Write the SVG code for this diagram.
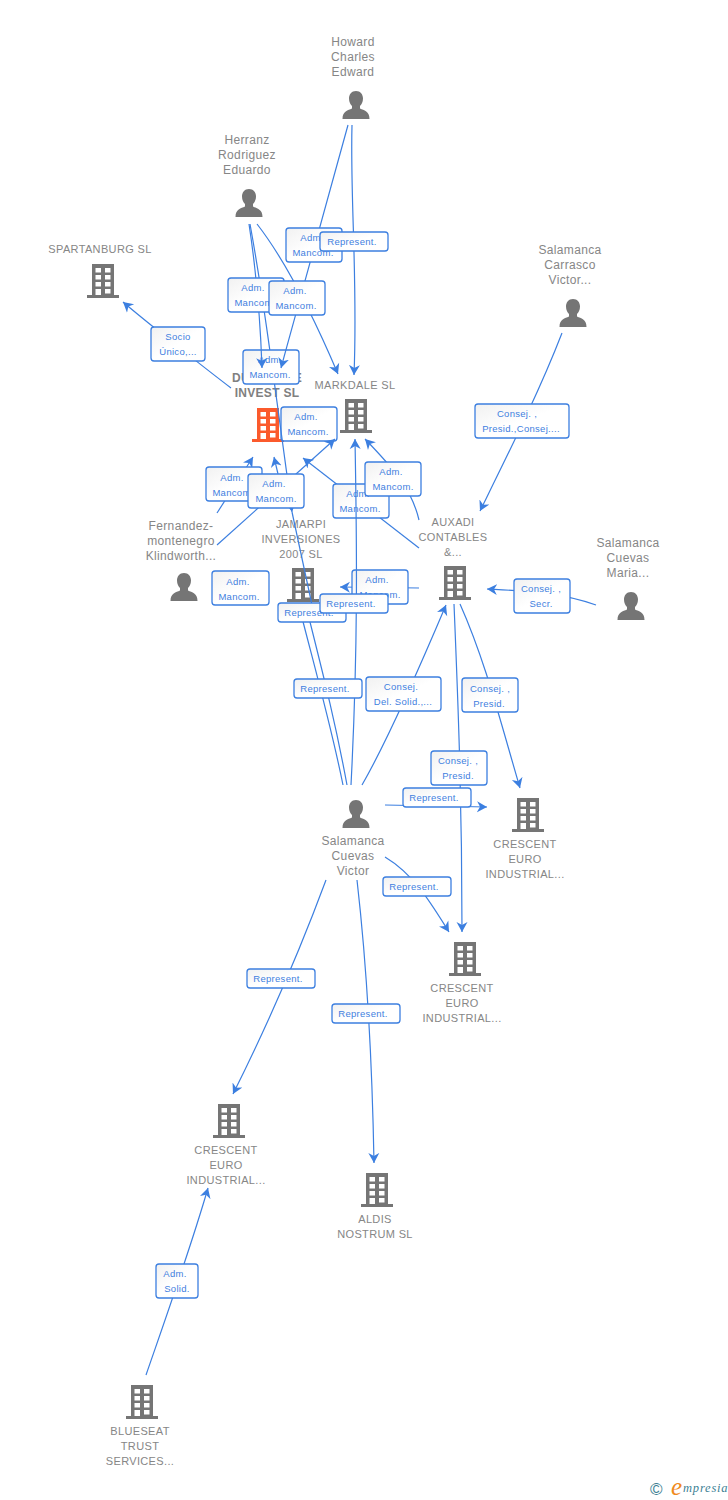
<svg xmlns="http://www.w3.org/2000/svg" width="728" height="1500" viewBox="0 0 728 1500">
<style>
.e{fill:none;stroke:#3c7fe0;stroke-width:1.2}
.a{marker-end:url(#ah)}
.b{fill:url(#bg);stroke:#3c7fe0;stroke-width:1.3}
.t{font:9.5px "Liberation Sans",Arial,sans-serif;fill:#3f80e0;text-anchor:middle;letter-spacing:.3px}
.l{font:12px "Liberation Sans",Arial,sans-serif;fill:#868686;text-anchor:middle;letter-spacing:.35px}
.s{font:11px "Liberation Sans",Arial,sans-serif;fill:#868686;text-anchor:middle;letter-spacing:.35px}
.lb{font:bold 12px "Liberation Sans",Arial,sans-serif;fill:#808080;letter-spacing:.3px}
.g{fill:#757575}
.w{fill:#fff}
</style>
<defs>
<linearGradient id="bg" x1="0" y1="0" x2="1" y2="1"><stop offset="0" stop-color="#f1f1f1"/><stop offset=".5" stop-color="#fff"/><stop offset="1" stop-color="#fff"/></linearGradient>
<marker id="ah" markerUnits="userSpaceOnUse" markerWidth="14" markerHeight="14" refX="10" refY="6" orient="auto"><path d="M10 6 L0 .5 L3 6 L0 11.5Z" fill="#3c7fe0"/></marker>
<symbol id="bld" overflow="visible"><path d="M-11 0H11V31H16V34H-16V31H-11Z"/><path class="w" d="M-7.500 4h5.500v4.500h-5.500zM2 4h5.500v4.500h-5.500zM-7.500 11h5.500v4.500h-5.500zM2 11h5.500v4.500h-5.500zM-7.500 18h5.500v4.500h-5.500zM2 18h5.500v4.500h-5.500zM-7.500 25h5.500v6h-5.500zM2 25h5.500v4.500h-5.500z"/></symbol>
<symbol id="psn" overflow="visible"><path d="M0 0C4.500 0 7 3.500 7 7.500C7 11 5.500 13.500 4 15V17.500C8 19.500 13.500 20 13.500 28H-13.500C-13.500 20-8 19.500-4 17.500V15C-5.500 13.500-7 11-7 7.500C-7 3.500-4.500 0 0 0Z"/></symbol>
</defs>
<g id="node-howard"><text class="l" x="353" y="46">Howard</text><text class="l" x="353" y="61">Charles</text><text class="l" x="353" y="76">Edward</text><use href="#psn" x="356" y="91" class="g"/></g>
<g id="node-herranz"><text class="l" x="247" y="144">Herranz</text><text class="l" x="247" y="159">Rodriguez</text><text class="l" x="247" y="174">Eduardo</text><use href="#psn" x="249" y="189" class="g"/></g>
<g id="node-spartanburg"><text class="s" x="100" y="253">SPARTANBURG SL</text><use href="#bld" x="103" y="264" class="g"/></g>
<g id="node-carrasco"><text class="l" x="570" y="254">Salamanca</text><text class="l" x="570" y="269">Carrasco</text><text class="l" x="570" y="284">Victor...</text><use href="#psn" x="573" y="299" class="g"/></g>
<g id="node-dun"><text class="lb" x="232" y="382">DU</text><text class="lb" x="302" y="382" text-anchor="end">E</text><text class="lb" x="267" y="397" text-anchor="middle">INVEST SL</text><use href="#bld" x="268" y="408" style="fill:#fb5a2c"/></g>
<g id="node-markdale"><text class="s" x="355" y="389">MARKDALE SL</text><use href="#bld" x="356" y="399" class="g"/></g>
<g id="node-fernandez"><text class="l" x="181" y="530">Fernandez-</text><text class="l" x="181" y="545">montenegro</text><text class="l" x="181" y="560">Klindworth...</text><use href="#psn" x="184" y="573" class="g"/></g>
<g id="node-jamarpi"><text class="s" x="301" y="528">JAMARPI</text><text class="s" x="301" y="543">INVERSIONES</text><text class="s" x="301" y="558">2007 SL</text><use href="#bld" x="303" y="568" class="g"/></g>
<g id="node-auxadi"><text class="s" x="453" y="526">AUXADI</text><text class="s" x="453" y="541">CONTABLES</text><text class="s" x="453" y="556">&amp;...</text><use href="#bld" x="455" y="566" class="g"/></g>
<g id="node-maria"><text class="l" x="628" y="547">Salamanca</text><text class="l" x="628" y="562">Cuevas</text><text class="l" x="628" y="577">Maria...</text><use href="#psn" x="631" y="592" class="g"/></g>
<g id="node-victor"><use href="#psn" x="356" y="800" class="g"/><text class="l" x="353" y="845">Salamanca</text><text class="l" x="353" y="860">Cuevas</text><text class="l" x="353" y="875">Victor</text></g>
<g id="node-crescent1"><use href="#bld" x="528" y="798" class="g"/><text class="s" x="525" y="848">CRESCENT</text><text class="s" x="525" y="863">EURO</text><text class="s" x="525" y="878">INDUSTRIAL...</text></g>
<g id="node-crescent2"><use href="#bld" x="465" y="942" class="g"/><text class="s" x="462" y="992">CRESCENT</text><text class="s" x="462" y="1007">EURO</text><text class="s" x="462" y="1022">INDUSTRIAL...</text></g>
<g id="node-crescent3"><use href="#bld" x="229" y="1104" class="g"/><text class="s" x="226" y="1154">CRESCENT</text><text class="s" x="226" y="1169">EURO</text><text class="s" x="226" y="1184">INDUSTRIAL...</text></g>
<g id="node-aldis"><use href="#bld" x="377" y="1173" class="g"/><text class="s" x="375" y="1223">ALDIS</text><text class="s" x="375" y="1238">NOSTRUM SL</text></g>
<g id="node-blueseat"><use href="#bld" x="142" y="1385" class="g"/><text class="s" x="140" y="1435">BLUESEAT</text><text class="s" x="140" y="1450">TRUST</text><text class="s" x="140" y="1465">SERVICES...</text></g>
<g id="connectors">
<path class="e a" d="M231 388C210 372 150 325 123 302"/>
<rect class="b" x="151" y="327" width="54" height="34" rx="3"/><text class="t" x="178" y="340">Socio</text><text class="t" x="178" y="355">Único,...</text>
<rect class="b" x="281" y="407" width="56" height="34" rx="3"/><text class="t" x="306" y="420">Adm.</text><text class="t" x="308" y="435">Mancom.</text>
<path class="e a" d="M250 224C262 290 270 350 292 512"/>
<path class="e" d="M292 512L312 605"/>
<rect class="b" x="243" y="350" width="56" height="34" rx="3"/><text class="t" x="270" y="363">Adm.</text><text class="t" x="270" y="378">Mancom.</text>
<path class="e a" d="M249 224C256 270 260 310 262 368"/>
<path class="e a" d="M348 125C330 190 305 280 281 368"/>
<path class="e a" d="M257 224C285 260 315 320 338 374"/>
<path class="e a" d="M352 125C350 200 358 280 354 375"/>
<rect class="b" x="286" y="228" width="56" height="34" rx="3"/><text class="t" x="312" y="241">Adm.</text><text class="t" x="313" y="256">Mancom.</text>
<rect class="b" x="320" y="232" width="68" height="19" rx="3"/><text class="t" x="352" y="245">Represent.</text>
<rect class="b" x="228" y="278" width="56" height="34" rx="3"/><text class="t" x="253" y="291">Adm.</text><text class="t" x="255" y="306">Mancom.</text>
<rect class="b" x="269" y="281" width="56" height="34" rx="3"/><text class="t" x="295" y="294">Adm.</text><text class="t" x="296" y="309">Mancom.</text>
<path class="e a" d="M217 513L253 457"/>
<rect class="b" x="206" y="467" width="56" height="34" rx="3"/><text class="t" x="232" y="481">Adm.</text><text class="t" x="233" y="496">Mancom.</text>
<path class="e a" d="M217 545L335 439"/>
<path class="e a" d="M278 474L274 457"/>
<rect class="b" x="248" y="474" width="56" height="34" rx="3"/><text class="t" x="274" y="487">Adm.</text><text class="t" x="276" y="502">Mancom.</text>
<rect class="b" x="212" y="571" width="57" height="34" rx="3"/><text class="t" x="238" y="585">Adm.</text><text class="t" x="239" y="600">Mancom.</text>
<path class="e a" d="M419 548L303 458"/>
<rect class="b" x="333" y="484" width="56" height="34" rx="3"/><text class="t" x="358" y="497">Adm.</text><text class="t" x="360" y="512">Mancom.</text>
<path class="e a" d="M419 520C412 490 395 470 365 439"/>
<rect class="b" x="365" y="462" width="56" height="34" rx="3"/><text class="t" x="391" y="475">Adm.</text><text class="t" x="393" y="490">Mancom.</text>
<path class="e a" d="M419 588L340 587"/>
<rect class="b" x="352" y="570" width="56" height="34" rx="3"/><text class="t" x="377" y="583">Adm.</text><text class="t" x="380" y="598">Mancom.</text>
<path class="e" d="M347 785C335 720 322 670 306 606"/>
<path class="e" d="M343 785C332 730 318 680 300 610"/>
<rect class="b" x="278" y="603" width="68" height="19" rx="3"/><text class="t" x="309" y="616">Represent.</text>
<path class="e a" d="M351 785C358 650 357 550 355 439"/>
<rect class="b" x="320" y="594" width="68" height="19" rx="3"/><text class="t" x="351" y="607">Represent.</text>
<rect class="b" x="294" y="679" width="68" height="19" rx="3"/><text class="t" x="325" y="692">Represent.</text>
<path class="e a" d="M362 785C385 745 410 690 446 605"/>
<rect class="b" x="366" y="677" width="75" height="34" rx="3"/><text class="t" x="401" y="690">Consej.</text><text class="t" x="403" y="705">Del. Solid.,...</text>
<path class="e a" d="M460 604C485 660 500 720 520 788"/>
<rect class="b" x="462" y="678" width="56" height="34" rx="3"/><text class="t" x="490" y="692">Consej. ,</text><text class="t" x="489" y="707">Presid.</text>
<path class="e a" d="M454 604C458 700 462 800 462 932"/>
<rect class="b" x="431" y="751" width="56" height="34" rx="3"/><text class="t" x="458" y="764">Consej. ,</text><text class="t" x="458" y="779">Presid.</text>
<path class="e a" d="M385 805L487 807"/>
<rect class="b" x="403" y="788" width="68" height="19" rx="3"/><text class="t" x="434" y="801">Represent.</text>
<path class="e a" d="M385 857C415 875 432 905 449 932"/>
<rect class="b" x="383" y="877" width="68" height="19" rx="3"/><text class="t" x="414" y="890">Represent.</text>
<path class="e a" d="M326 880C300 950 265 1030 233 1094"/>
<rect class="b" x="247" y="969" width="68" height="19" rx="3"/><text class="t" x="278" y="982">Represent.</text>
<path class="e a" d="M357 880C365 950 372 1050 374 1163"/>
<rect class="b" x="332" y="1004" width="68" height="19" rx="3"/><text class="t" x="363" y="1017">Represent.</text>
<path class="e a" d="M146 1375C165 1320 190 1250 208 1188"/>
<rect class="b" x="156" y="1264" width="42" height="34" rx="3"/><text class="t" x="175" y="1277">Adm.</text><text class="t" x="177" y="1292">Solid.</text>
<path class="e a" d="M562 333C540 390 510 450 480 511"/>
<rect class="b" x="475" y="404" width="94" height="34" rx="3"/><text class="t" x="517" y="417">Consej. ,</text><text class="t" x="521" y="432">Presid.,Consej....</text>
<path class="e a" d="M596 605C560 592 525 591 487 589"/>
<rect class="b" x="514" y="579" width="56" height="34" rx="3"/><text class="t" x="541" y="592">Consej. ,</text><text class="t" x="541" y="607">Secr.</text>
</g>
<g id="logo"><text x="650" y="1495" style="font:17px 'Liberation Sans',sans-serif;fill:#3d7f94">©</text><text x="671" y="1495" style="font:italic 25px 'Liberation Serif',serif;fill:#f08a1d">e</text><text x="683" y="1492" style="font:italic 12.500px 'Liberation Serif',serif;fill:#3d7f94;letter-spacing:.8px">mpresia</text></g>
</svg>
